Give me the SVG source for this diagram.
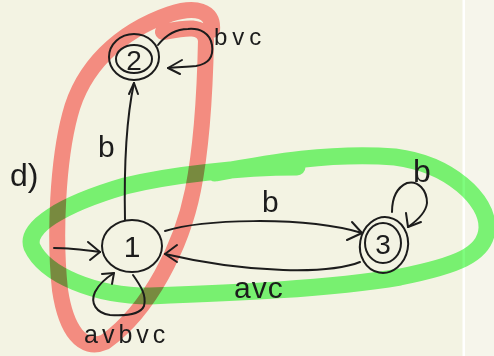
<svg xmlns="http://www.w3.org/2000/svg" width="494" height="356" viewBox="0 0 494 356">
  <defs>
    <style>
      .ink { fill: none; stroke: #1c1c1c; stroke-width: 2; stroke-linecap: round; stroke-linejoin: round; }
      .lbl { font-family: "Liberation Sans", "DejaVu Sans", sans-serif; fill: #1c1c1c; }
      .hl { fill: none; stroke-linecap: round; stroke-linejoin: round; mix-blend-mode: multiply; }
    </style>
  </defs>

  <!-- paper -->
  <rect x="0" y="0" width="494" height="356" fill="#f3f3e3"/>
  <rect x="464" y="0" width="30" height="356" fill="#f6f5eb"/>
  <rect x="462.5" y="0" width="2.5" height="356" fill="#ffffff"/>

  <!-- marker strokes -->
  <g id="highlights">
    <path class="hl" stroke="#ff9390" stroke-width="16"
      d="M163,32 C185,28 203,24 206,40 C205,90 201,150 193,190 C182,245 150,310 105,342 C82,352 66,330 60,290 C54,235 58,160 70,115 C82,68 118,32 170,14 C195,6 214,10 212,30"/>
    <path class="hl" stroke="#7efc7e" stroke-width="17"
      d="M215,173 C270,163 330,152 395,157 C450,164 488,200 487,228 C486,255 455,266 400,277 C330,289 230,293 150,296 C95,296 45,275 32,247 C25,228 60,205 125,186 C170,175 240,167 297,167"/>
  </g>

  <!-- connectors -->
  <g id="connectors">
    <!-- start arrow into 1 -->
    <path class="ink" d="M54,248 C70,248 85,250 100,252"/>
    <path class="ink" d="M88,242 L100,252 L90,260"/>
    <!-- 1 -> 2 : b -->
    <path class="ink" d="M125,220 C124,170 126,120 134,83"/>
    <path class="ink" d="M129,94 L134,83 L138,94"/>
    <text class="lbl" x="98" y="157" font-size="30">b</text>
    <!-- 2 loop : bvc -->
    <path class="ink" d="M158,45 C166,35 176,29 188,29 C200,28 210,33 212,45 C214,58 208,64 196,66 C186,67 177,67 168,68"/>
    <path class="ink" d="M182,60 L168,68 L180,74"/>
    <text class="lbl" x="214" y="45" font-size="24" letter-spacing="5">bvc</text>
    <!-- 1 -> 3 : b -->
    <path class="ink" d="M165,231 C200,220 300,215 362,233"/>
    <path class="ink" d="M352,222 L362,233 L347,240"/>
    <text class="lbl" x="262" y="212" font-size="30">b</text>
    <!-- 3 -> 1 : avc -->
    <path class="ink" d="M360,262 C330,274 250,274 165,254"/>
    <path class="ink" d="M177,245 L165,254 L177,262"/>
    <text class="lbl" x="234" y="298" font-size="30" letter-spacing="1">avc</text>
    <!-- 3 loop : b -->
    <path class="ink" d="M392,212 C392,200 396,188 407,183 C418,180 427,190 427,203 C426,212 418,220 408,227"/>
    <path class="ink" d="M406,213 L408,227 L421,222"/>
    <text class="lbl" x="413" y="182" font-size="32">b</text>
    <!-- 1 loop : avbvc -->
    <path class="ink" d="M133,275 C140,285 147,295 144,306 C140,315 125,316 110,315 C96,313 90,303 95,292 C99,284 106,278 114,273"/>
    <path class="ink" d="M102,274 L114,273 L112,284"/>
    <text class="lbl" x="84" y="343" font-size="25" letter-spacing="4">avbvc</text>
  </g>

  <!-- states -->
  <g id="node-1">
    <ellipse class="ink" cx="132" cy="246" rx="30" ry="26"/>
    <text class="lbl" x="132" y="257" font-size="30" text-anchor="middle">1</text>
  </g>
  <g id="node-2">
    <ellipse class="ink" cx="134" cy="57" rx="25" ry="23"/>
    <ellipse class="ink" cx="134" cy="59" rx="18" ry="14"/>
    <text class="lbl" x="134" y="70" font-size="28" text-anchor="middle">2</text>
  </g>
  <g id="node-3">
    <ellipse class="ink" cx="384" cy="245" rx="24" ry="28" transform="rotate(10 384 245)"/>
    <ellipse class="ink" cx="383" cy="243" rx="18" ry="20"/>
    <text class="lbl" x="383" y="254" font-size="28" text-anchor="middle">3</text>
  </g>

  <!-- part label -->
  <text class="lbl" x="10" y="186" font-size="32">d)</text>
</svg>
